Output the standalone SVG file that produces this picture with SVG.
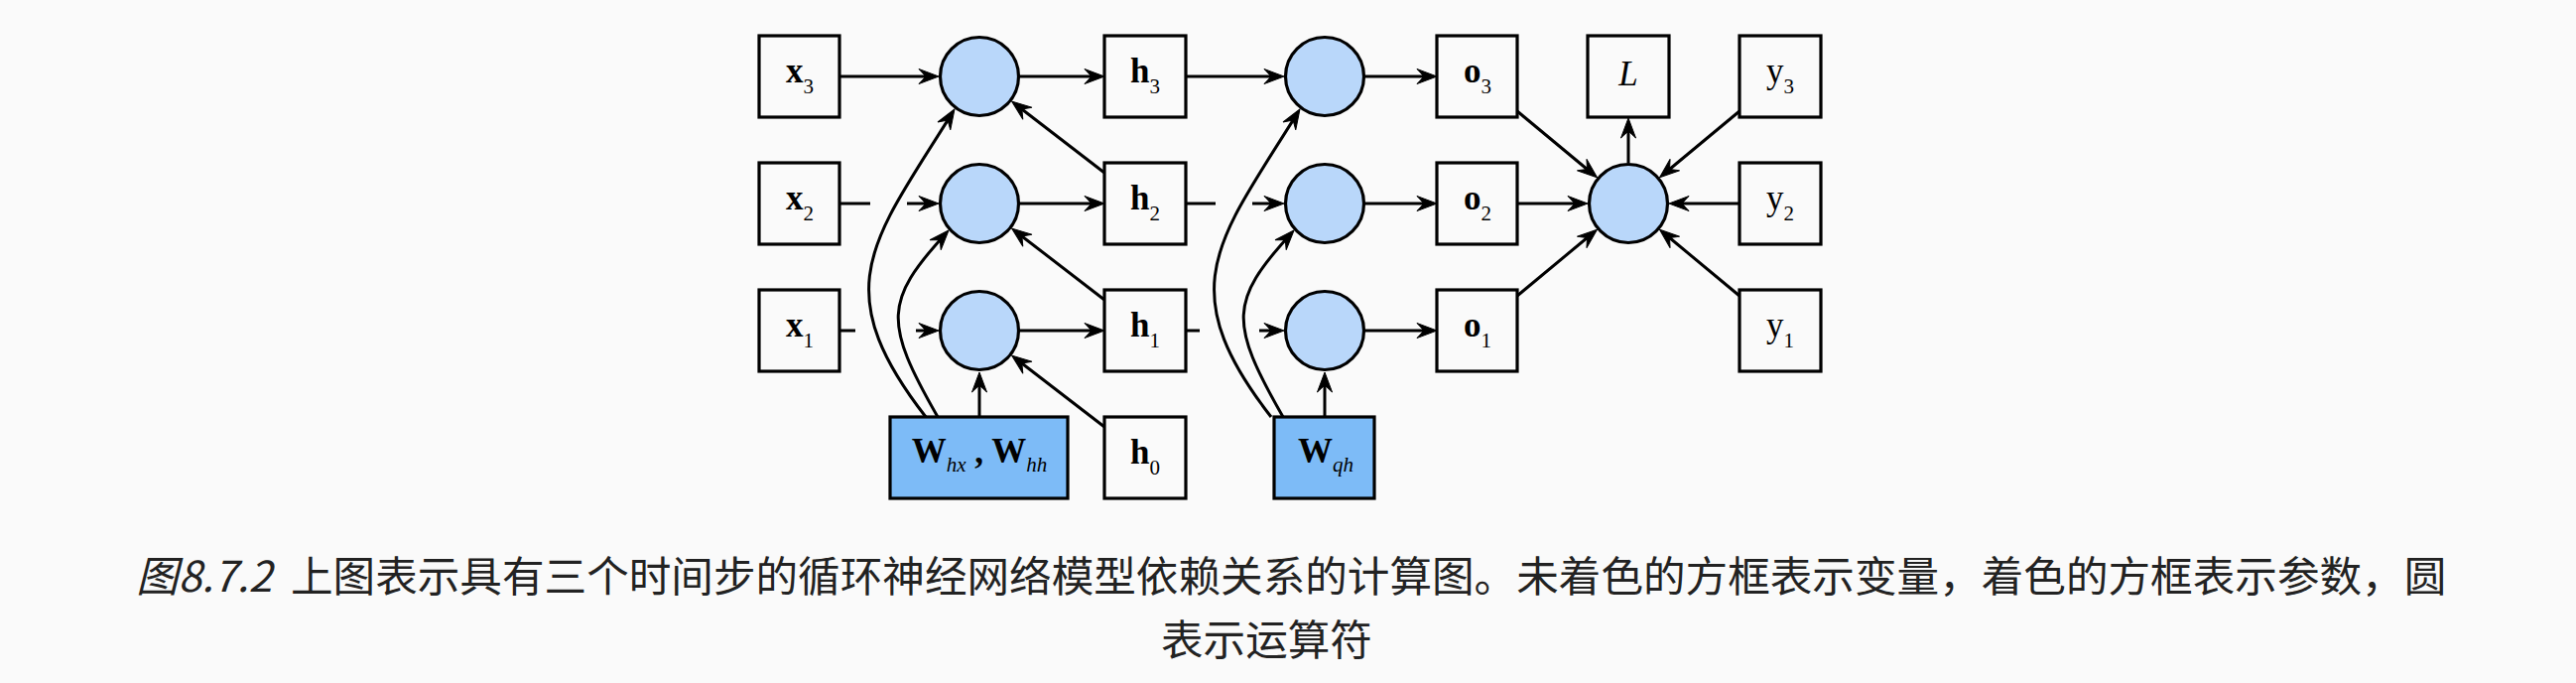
<svg xmlns="http://www.w3.org/2000/svg" width="2596" height="688" viewBox="0 0 2596 688">
<style>
.box{fill:#fafafa;stroke:#000;stroke-width:3.2}
.par{fill:#7dbbf7;stroke:#000;stroke-width:3.2}
.op{fill:#b9d7fa;stroke:#000;stroke-width:3.2}
.lbl{font-family:"Liberation Serif",serif;font-size:35px;fill:#000;text-anchor:middle}
.b{font-weight:bold}
.i{font-style:italic}
.s{font-size:21px;font-weight:normal}
.con{fill:none;stroke:#000;stroke-width:3}
.cap{font-family:"Noto Sans CJK SC","Noto Sans",sans-serif;font-size:42.6px;fill:#222}
</style>
<defs>
<marker id="ah" markerUnits="userSpaceOnUse" markerWidth="40" markerHeight="30" refX="20" refY="15" orient="auto" overflow="visible">
<path d="M26,15 L6,7.5 L13,15 L6,22.5 Z" fill="#000" stroke="#000" stroke-width="1" stroke-linejoin="miter"/>
</marker>
</defs>
<rect x="0" y="0" width="2596" height="688" fill="#fafafa"/>

<g id="connectors" class="con">
<path d="M846,77 H940" marker-end="url(#ah)"/>
<path d="M846,205 H877"/>
<path d="M914,205 H940" marker-end="url(#ah)"/>
<path d="M846,333 H862"/>
<path d="M923,333 H940" marker-end="url(#ah)"/>
<path d="M1028,77 H1107" marker-end="url(#ah)"/>
<path d="M1028,205 H1107" marker-end="url(#ah)"/>
<path d="M1028,333 H1107" marker-end="url(#ah)"/>
<path d="M1113,174 L1024.3,105.7" marker-end="url(#ah)"/>
<path d="M1113,302 L1024.3,233.7" marker-end="url(#ah)"/>
<path d="M1113,430 L1024.3,361.7" marker-end="url(#ah)"/>
<path d="M987,420 V381" marker-end="url(#ah)"/>
<path d="M933,420 C832,290 879.3,242.6 958.8,115.1" marker-end="url(#ah)"/>
<path d="M945,420 C890,324.3 891.7,303 952,236.4" marker-end="url(#ah)"/>
<path d="M1195,77 H1288" marker-end="url(#ah)"/>
<path d="M1195,205 H1225"/>
<path d="M1262,205 H1288" marker-end="url(#ah)"/>
<path d="M1195,333 H1209"/>
<path d="M1269,333 H1288" marker-end="url(#ah)"/>
<path d="M1335,420 V381" marker-end="url(#ah)"/>
<path d="M1281,420 C1180,290 1227.3,242.6 1306.8,115.1" marker-end="url(#ah)"/>
<path d="M1293,420 C1238,324.3 1239.7,303 1300,236.4" marker-end="url(#ah)"/>
<path d="M1376,77 H1442" marker-end="url(#ah)"/>
<path d="M1376,205 H1442" marker-end="url(#ah)"/>
<path d="M1376,333 H1442" marker-end="url(#ah)"/>
<path d="M1529,112 L1604.9,175" marker-end="url(#ah)"/>
<path d="M1529,205 H1594" marker-end="url(#ah)"/>
<path d="M1529,298 L1604.9,235" marker-end="url(#ah)"/>
<path d="M1753,112 L1677.1,175" marker-end="url(#ah)"/>
<path d="M1753,205 H1688" marker-end="url(#ah)"/>
<path d="M1753,298 L1677.1,235" marker-end="url(#ah)"/>
<path d="M1641,164 V125" marker-end="url(#ah)"/>
</g>

<g id="x3"><rect class="box" x="765" y="36" width="81" height="82"/><text class="lbl" x="806" y="83"><tspan class="b">x</tspan><tspan class="s" dy="11">3</tspan></text></g>
<g id="x2"><rect class="box" x="765" y="164" width="81" height="82"/><text class="lbl" x="806" y="211"><tspan class="b">x</tspan><tspan class="s" dy="11">2</tspan></text></g>
<g id="x1"><rect class="box" x="765" y="292" width="81" height="82"/><text class="lbl" x="806" y="339"><tspan class="b">x</tspan><tspan class="s" dy="11">1</tspan></text></g>

<g id="op_h3"><circle class="op" cx="987" cy="77" r="39.5"/></g>
<g id="op_h2"><circle class="op" cx="987" cy="205" r="39.5"/></g>
<g id="op_h1"><circle class="op" cx="987" cy="333" r="39.5"/></g>

<g id="h3"><rect class="box" x="1113" y="36" width="82" height="82"/><text class="lbl" x="1154" y="83"><tspan class="b">h</tspan><tspan class="s" dy="11">3</tspan></text></g>
<g id="h2"><rect class="box" x="1113" y="164" width="82" height="82"/><text class="lbl" x="1154" y="211"><tspan class="b">h</tspan><tspan class="s" dy="11">2</tspan></text></g>
<g id="h1"><rect class="box" x="1113" y="292" width="82" height="82"/><text class="lbl" x="1154" y="339"><tspan class="b">h</tspan><tspan class="s" dy="11">1</tspan></text></g>
<g id="h0"><rect class="box" x="1113" y="420" width="82" height="82"/><text class="lbl" x="1154" y="467"><tspan class="b">h</tspan><tspan class="s" dy="11">0</tspan></text></g>

<g id="W_hx_hh"><rect class="par" x="897" y="420" width="179" height="82"/><text class="lbl" x="987" y="466"><tspan class="b">W</tspan><tspan class="s i" dy="9">hx</tspan><tspan class="b" dy="-9"> , W</tspan><tspan class="s i" dy="9">hh</tspan></text></g>

<g id="op_o3"><circle class="op" cx="1335" cy="77" r="39.5"/></g>
<g id="op_o2"><circle class="op" cx="1335" cy="205" r="39.5"/></g>
<g id="op_o1"><circle class="op" cx="1335" cy="333" r="39.5"/></g>

<g id="W_qh"><rect class="par" x="1284" y="420" width="101" height="82"/><text class="lbl" x="1336" y="466"><tspan class="b">W</tspan><tspan class="s i" dy="9">qh</tspan></text></g>

<g id="o3"><rect class="box" x="1448" y="36" width="81" height="82"/><text class="lbl" x="1489" y="83"><tspan class="b">o</tspan><tspan class="s" dy="11">3</tspan></text></g>
<g id="o2"><rect class="box" x="1448" y="164" width="81" height="82"/><text class="lbl" x="1489" y="211"><tspan class="b">o</tspan><tspan class="s" dy="11">2</tspan></text></g>
<g id="o1"><rect class="box" x="1448" y="292" width="81" height="82"/><text class="lbl" x="1489" y="339"><tspan class="b">o</tspan><tspan class="s" dy="11">1</tspan></text></g>

<g id="L"><rect class="box" x="1600" y="36" width="82" height="82"/><text class="lbl i" x="1641" y="86">L</text></g>
<g id="op_loss"><circle class="op" cx="1641" cy="205" r="39.5"/></g>

<g id="y3"><rect class="box" x="1753" y="36" width="82" height="82"/><text class="lbl" x="1794" y="83"><tspan>y</tspan><tspan class="s" dy="11">3</tspan></text></g>
<g id="y2"><rect class="box" x="1753" y="164" width="82" height="82"/><text class="lbl" x="1794" y="211"><tspan>y</tspan><tspan class="s" dy="11">2</tspan></text></g>
<g id="y1"><rect class="box" x="1753" y="292" width="82" height="82"/><text class="lbl" x="1794" y="339"><tspan>y</tspan><tspan class="s" dy="11">1</tspan></text></g>

<g id="caption">
<text class="cap" x="137" y="596"><tspan font-style="italic">图8.7.2</tspan><tspan x="293">上图表示具有三个时间步的循环神经网络模型依赖关系的计算图。未着色的方框表示变量，着色的方框表示参数，圆</tspan></text>
<text class="cap" x="1170" y="660">表示运算符</text>
</g>
</svg>
